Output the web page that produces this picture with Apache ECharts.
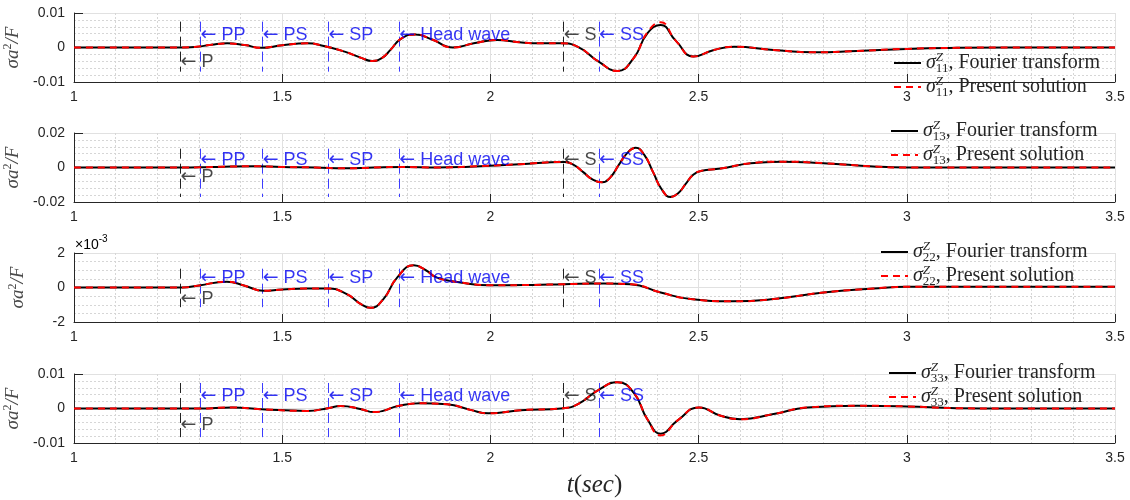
<!DOCTYPE html>
<html>
<head>
<meta charset="utf-8">
<script src="https://cdn.jsdelivr.net/npm/echarts@6/dist/echarts.min.js"></script>
<style>
  html, body { margin: 0; padding: 0; background: #ffffff; }
  #chart { width: 1130px; height: 500px; }
</style>
</head>
<body>
<div id="chart"></div>
<script>
// Wave arrivals marked on every panel (time in seconds)
const arrivalNames = ['P', 'PP', 'PS', 'SP', 'Head wave', 'S', 'SS'];
const arrivalTimes = [1.256, 1.304, 1.453, 1.611, 1.781, 2.176, 2.261];

// Stress histories, values stored in units of 1e-3 (σa²/F × 10³)
const t11 = [1.00, 1.25, 1.29, 1.33, 1.368, 1.41, 1.45, 1.50, 1.56, 1.60, 1.65, 1.69, 1.716, 1.74, 1.76, 1.785, 1.82, 1.86, 1.91, 1.96, 2.016, 2.07, 2.12, 2.17, 2.21, 2.26, 2.305, 2.344, 2.377, 2.409, 2.445, 2.488, 2.537, 2.585, 2.68, 2.777, 2.88, 3.00, 3.12, 3.25, 3.50];
const s11Fourier = [0, 0, 0.15, 0.8, 1.2, 0.7, -0.1, 0.65, 1.2, 0.45, -1.2, -3.0, -3.9, -3.0, -0.7, 2.5, 3.8, 2.3, 0.0, 1.2, 2.2, 1.5, 1.2, 1.2, 0.2, -4.1, -6.8, -3.1, 4.1, 6.5, 2.0, -2.6, -0.7, 0.2, -0.7, -1.4, -1.0, -0.4, -0.1, 0, 0];
const s11Present = [0, 0, 0.15, 0.8, 1.2, 0.7, -0.1, 0.65, 1.2, 0.45, -1.2, -3.0, -3.9, -3.0, -0.7, 2.5, 3.8, 2.3, 0.0, 1.2, 2.2, 1.5, 1.2, 1.2, 0.2, -4.1, -6.8, -3.1, 4.4, 7.3, 2.0, -2.6, -0.7, 0.2, -0.7, -1.4, -1.0, -0.4, -0.1, 0, 0];

const t13 = [1.00, 1.26, 1.30, 1.36, 1.43, 1.50, 1.58, 1.65, 1.72, 1.79, 1.87, 1.95, 2.07, 2.178, 2.20, 2.223, 2.245, 2.268, 2.288, 2.308, 2.329, 2.349, 2.37, 2.391, 2.412, 2.433, 2.451, 2.469, 2.487, 2.505, 2.553, 2.625, 2.697, 2.80, 2.92, 3.00, 3.50];
const s13Fourier = [0, 0, 0.1, 0.5, 0.7, 0.3, 0.0, -0.5, 0, 0.3, 0, 0.5, 1.9, 3.2, 1.5, -2.7, -6.9, -8.6, -5.7, 1.4, 8.5, 11.4, 7.2, -2.85, -12.9, -17.1, -14.9, -9.5, -4.2, -2.0, -0.6, 2.5, 3.4, 2.5, 0.6, 0, 0];
const s13Present = [0, 0, 0.1, 0.5, 0.7, 0.3, 0.0, -0.5, 0, 0.3, 0, 0.5, 1.9, 3.2, 1.5, -2.7, -6.9, -8.6, -5.7, 1.4, 8.5, 11.4, 7.2, -2.85, -12.9, -17.1, -14.9, -9.5, -4.2, -2.0, -0.6, 2.5, 3.4, 2.5, 0.6, 0, 0];

const t22 = [1.00, 1.26, 1.30, 1.367, 1.41, 1.455, 1.50, 1.56, 1.61, 1.655, 1.688, 1.712, 1.743, 1.776, 1.816, 1.845, 1.872, 1.928, 2.00, 2.10, 2.176, 2.272, 2.337, 2.409, 2.481, 2.58, 2.68, 2.80, 2.92, 3.00, 3.50];
const s22Fourier = [0, 0, 0.12, 0.34, 0.1, -0.19, -0.12, -0.06, -0.06, -0.38, -0.95, -1.18, -0.67, 0.57, 1.29, 1.0, 0.57, 0.29, 0.13, 0.15, 0.19, 0.23, 0.19, -0.29, -0.67, -0.8, -0.67, -0.29, -0.06, 0.04, 0.05];
const s22Present = [0, 0, 0.12, 0.34, 0.1, -0.19, -0.12, -0.06, -0.06, -0.38, -0.95, -1.18, -0.67, 0.57, 1.29, 1.0, 0.57, 0.29, 0.13, 0.15, 0.19, 0.23, 0.19, -0.29, -0.67, -0.8, -0.67, -0.29, -0.06, 0.04, 0.05];

const t33 = [1.00, 1.30, 1.38, 1.45, 1.56, 1.61, 1.64, 1.69, 1.72, 1.781, 1.832, 1.896, 1.952, 1.995, 2.072, 2.176, 2.209, 2.261, 2.305, 2.344, 2.377, 2.409, 2.449, 2.501, 2.553, 2.60, 2.68, 2.761, 2.881, 3.00, 3.12, 3.25, 3.50];
const s33Fourier = [0, 0, 0.3, -0.2, -0.7, 0.1, 0.7, -0.2, -1.05, 0.77, 1.5, 1.2, -0.4, -1.4, -0.5, 0.1, 1.2, 5.5, 7.6, 4.6, -3.1, -7.3, -3.5, 0.3, -2.1, -3.1, -1.6, 0.3, 0.8, 0.6, 0.1, 0, 0];
const s33Present = [0, 0, 0.3, -0.2, -0.7, 0.1, 0.7, -0.2, -1.05, 0.77, 1.5, 1.2, -0.4, -1.4, -0.5, 0.1, 1.2, 5.5, 7.6, 4.6, -3.1, -7.8, -3.5, 0.3, -2.1, -3.1, -1.6, 0.3, 0.8, 0.6, 0.1, 0, 0];

// Axis limits per panel (same 1e-3 units) and where arrival markers / tags sit
const panels = [
  { key: '11', t: t11, fourier: s11Fourier, present: s11Present, yMax: 10, minorSplit: 5, span: [7.5, -7.0], tagUp: 3.6, tagDown: -4.2, milliLabels: false },
  { key: '13', t: t13, fourier: s13Fourier, present: s13Present, yMax: 20, minorSplit: 5, span: [10.9, -17.1], tagUp: 4.3, tagDown: -5.7, milliLabels: false },
  { key: '22', t: t22, fourier: s22Fourier, present: s22Present, yMax: 2, minorSplit: 4, span: [1.09, -1.14], tagUp: 0.57, tagDown: -0.67, milliLabels: true },
  { key: '33', t: t33, fourier: s33Fourier, present: s33Present, yMax: 10, minorSplit: 5, span: [7.4, -8.3], tagUp: 3.6, tagDown: -4.8, milliLabels: false }
];

const gridLeft = 74, gridWidth = 1041, gridHeight = 69;
const gridTops = [13, 133, 253, 374];
const legendPos = [[893, 51], [890, 119], [880, 240], [888, 361]];

const ink = '#262626';
const sans = "'Liberation Sans', Arial, 'DejaVu Sans', sans-serif";
const serif = "'Liberation Serif', 'Times New Roman', 'DejaVu Serif', serif";
const blue = '#0000f0';
const dark = '#1a1a1a';

const majorGrid = { show: true, lineStyle: { color: '#e1e1e1', width: 1 } };
const minorGrid = { show: true, lineStyle: { color: '#d6d6d6', width: 1, type: [2, 2] } };

const legendRich = {
  s: { fontFamily: serif, fontStyle: 'italic', fontSize: 20, lineHeight: 24, color: ink },
  z: { fontFamily: serif, fontStyle: 'italic', fontSize: 13, lineHeight: 13, verticalAlign: 'top', width: 0, color: ink },
  n: { fontFamily: serif, fontSize: 13, lineHeight: 13, verticalAlign: 'bottom', color: ink },
  t: { fontFamily: serif, fontSize: 20, lineHeight: 24, color: ink }
};

const grids = [], xAxes = [], yAxes = [], series = [], legends = [];

panels.forEach((p, i) => {
  grids.push({ left: gridLeft, top: gridTops[i], width: gridWidth, height: gridHeight, containLabel: false, outerBoundsMode: 'none' });

  xAxes.push({
    gridIndex: i, type: 'value', min: 1, max: 3.5, interval: 0.5,
    axisLine: { show: true, onZero: false, lineStyle: { color: ink, width: 1 } },
    axisTick: { show: true, inside: true, length: 8, lineStyle: { color: ink } },
    axisLabel: { color: ink, fontSize: 14, fontFamily: sans, margin: 8, showMinLabel: true, showMaxLabel: true },
    splitLine: majorGrid,
    minorTick: { show: false, splitNumber: 5 },
    minorSplitLine: minorGrid,
    name: i === 3 ? '{i|t}{r|(}{i|sec}{r|)}' : '',
    nameLocation: 'middle', nameGap: 30,
    nameTextStyle: {
      rich: {
        i: { fontFamily: serif, fontStyle: 'italic', fontSize: 25, color: ink },
        r: { fontFamily: serif, fontSize: 25, color: ink }
      }
    }
  });

  yAxes.push({
    gridIndex: i, type: 'value', min: -p.yMax, max: p.yMax, interval: p.yMax,
    axisLine: { show: true, onZero: false, lineStyle: { color: ink, width: 1 } },
    axisTick: { show: true, inside: true, length: 9, lineStyle: { color: ink } },
    axisLabel: {
      color: ink, fontSize: 14, fontFamily: sans, margin: 9, showMinLabel: true, showMaxLabel: true,
      formatter: v => (p.milliLabels ? String(v) : (v === 0 ? '0' : String(+(v / 1000).toFixed(4))))
    },
    splitLine: majorGrid,
    minorTick: { show: false, splitNumber: p.minorSplit },
    minorSplitLine: minorGrid,
    name: '{i|σa}{s|2}{i|/F}',
    nameLocation: 'middle', nameGap: 45, nameRotate: 90,
    nameTextStyle: {
      rich: {
        i: { fontFamily: serif, fontStyle: 'italic', fontSize: 19, lineHeight: 22, color: '#4a4a4a' },
        s: { fontFamily: serif, fontSize: 12, lineHeight: 12, verticalAlign: 'top', color: '#4a4a4a' }
      }
    }
  });

  const fourierName = 'sigma' + p.key + '|Fourier transform';
  const presentName = 'sigma' + p.key + '|Present solution';

  series.push({
    name: fourierName, type: 'line', xAxisIndex: i, yAxisIndex: i,
    data: p.t.map((x, k) => [x, p.fourier[k]]),
    smooth: 0.5, symbol: 'none', z: 3,
    lineStyle: { color: '#000000', width: 2 },
    itemStyle: { color: '#000000' },
    markLine: {
      silent: true, symbol: 'none', label: { show: false }, z: 2,
      data: arrivalTimes.map((x, k) => {
        const black = arrivalNames[k] === 'P' || arrivalNames[k] === 'S';
        return [
          { coord: [x, p.span[0]], lineStyle: { color: black ? '#222222' : '#3c3cff', type: [10, 5], width: 1 } },
          { coord: [x, p.span[1]] }
        ];
      })
    }
  });

  series.push({
    name: presentName, type: 'line', xAxisIndex: i, yAxisIndex: i,
    data: p.t.map((x, k) => [x, p.present[k]]),
    smooth: 0.5, symbol: 'none', z: 4,
    lineStyle: { color: '#ff0000', width: 2, type: [7, 5] },
    itemStyle: { color: '#ff0000' }
  });

  series.push({
    type: 'scatter', xAxisIndex: i, yAxisIndex: i, symbolSize: 0, silent: true, z: 6,
    data: arrivalNames.map((n, k) => ({
      value: [arrivalTimes[k], n === 'P' ? p.tagDown : p.tagUp],
      name: n,
      label: { color: (n === 'P' || n === 'S') ? dark : blue }
    })),
    label: {
      show: true, position: 'right', distance: 0,
      formatter: '{a|←} {b}',
      fontSize: 18, fontFamily: sans,
      rich: { a: { fontFamily: "'DejaVu Sans', sans-serif", fontSize: 19 } }
    }
  });

  legends.push({
    orient: 'vertical', left: legendPos[i][0], top: legendPos[i][1],
    itemWidth: 27, itemHeight: 12, itemGap: 0, padding: 0,
    selectedMode: false,
    itemStyle: { opacity: 0 },
    data: [fourierName, presentName],
    formatter: name => {
      const parts = name.split('|');
      return '{s|σ}{z|Z}{n|' + parts[0].slice(5) + '}{t|, ' + parts[1] + '}';
    },
    textStyle: { rich: legendRich }
  });
});

const chart = echarts.init(document.getElementById('chart'));
chart.setOption({
  backgroundColor: '#ffffff',
  animation: false,
  grid: grids,
  xAxis: xAxes,
  yAxis: yAxes,
  legend: legends,
  series: series,
  graphic: [{
    type: 'text', left: 75, top: 234,
    style: {
      text: '{a|×10}{b|-3}',
      rich: {
        a: { fontFamily: sans, fontSize: 14, lineHeight: 18, color: ink, verticalAlign: 'bottom' },
        b: { fontFamily: sans, fontSize: 10, lineHeight: 10, color: ink, verticalAlign: 'top' }
      }
    }
  }]
});
</script>
</body>
</html>
